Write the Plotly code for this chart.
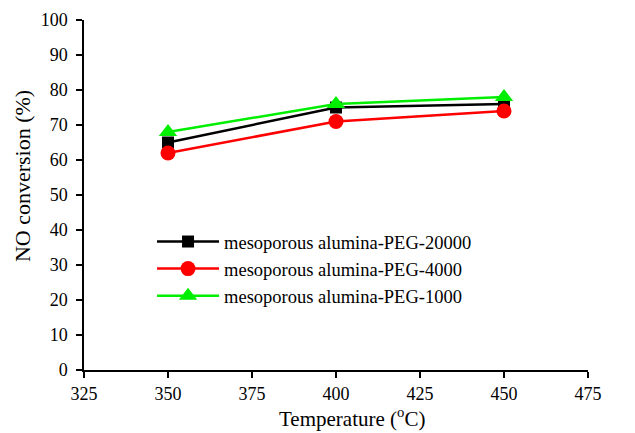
import plotly.graph_objects as go

temperature = [350, 400, 450]
peg20000 = [65, 75, 76]
peg4000 = [62, 71, 74]
peg1000 = [68, 76, 78]

names = ["mesoporous alumina-PEG-20000", "mesoporous alumina-PEG-4000", "mesoporous alumina-PEG-1000"]
x_title = "Temperature (<sup>o</sup>C)"
y_title = "NO conversion (%)"

fig = go.Figure()
fig.add_trace(go.Scatter(x=temperature, y=peg20000, name=names[0], mode="lines+markers",
                         legendgroup="a",
                         line=dict(color="black", width=2.5),
                         marker=dict(symbol="square", size=12, color="black")))
fig.add_trace(go.Scatter(x=temperature, y=peg4000, name=names[1], mode="lines+markers",
                         legendgroup="b",
                         line=dict(color="#ff0000", width=2.5),
                         marker=dict(symbol="circle", size=15, color="#ff0000")))
fig.add_trace(go.Scatter(x=temperature, y=peg1000, name=names[2], mode="lines+markers",
                         legendgroup="c",
                         line=dict(color="#00ee00", width=2.5),
                         marker=dict(symbol="triangle-up", size=16, color="#00ee00")))

FAM = "Liberation Serif"
fig.update_layout(
    width=635, height=433,
    margin=dict(l=84, r=47, t=20, b=63),
    paper_bgcolor="white", plot_bgcolor="white",
    font=dict(family=FAM, size=18, color="black"),
    showlegend=True,
    legend=dict(x=0.135, y=0.42, xanchor="left", yanchor="top", bgcolor="rgba(0,0,0,0)",
                font=dict(family=FAM, size=18.5, color="black"),
                traceorder="grouped", tracegroupgap=0, itemwidth=62),
    xaxis=dict(range=[325, 475], tickvals=[325, 350, 375, 400, 425, 450, 475],
               showline=True, linecolor="black", linewidth=1.5, ticks="outside",
               ticklen=6, tickwidth=1.5, tickcolor="black", showgrid=False, zeroline=False,
               ticklabelstandoff=1, automargin=False,
               tickfont=dict(family=FAM, size=18)),
    yaxis=dict(range=[0, 100], tickvals=list(range(0, 101, 10)),
               showline=True, linecolor="black", linewidth=1.5, ticks="outside",
               ticklen=6, tickwidth=1.5, tickcolor="black", showgrid=False, zeroline=False,
               ticklabelstandoff=5, automargin=False,
               tickfont=dict(family=FAM, size=18)),
    annotations=[
        dict(text=x_title, xref="paper", yref="paper", x=0.532, y=-0.137,
             xanchor="center", yanchor="middle", showarrow=False,
             font=dict(family=FAM, size=21, color="black")),
        dict(text=y_title, xref="paper", yref="paper", x=-0.123, y=0.554,
             xanchor="center", yanchor="middle", showarrow=False, textangle=-90,
             font=dict(family=FAM, size=22, color="black")),
    ],
)
fig.write_html("out.html")
